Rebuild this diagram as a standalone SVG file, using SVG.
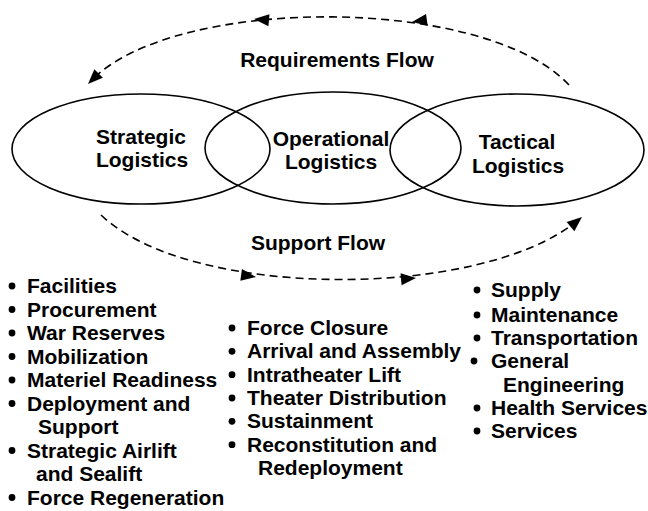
<svg xmlns="http://www.w3.org/2000/svg" xmlns:xlink="http://www.w3.org/1999/xlink" width="648" height="511" viewBox="0 0 648 511">
<style>
  .ell { fill: none; stroke: #000; stroke-width: 1.6; }
  .flow { fill: none; stroke: #000; stroke-width: 1.6; stroke-dasharray: 8 5; }
  .t { font-family: "Liberation Sans", Arial, sans-serif; font-weight: bold; font-size: 21px; fill: #000; }
  .c { text-anchor: middle; }
</style>
<defs>
  <path id="ah" d="M0,0 L-15,-6 L-15,6 Z" fill="#000"/>
  <circle id="bul" r="3.4" fill="#000"/>
</defs>
<rect width="648" height="511" fill="#fff"/>

<g id="connectors">
  <path id="req" class="flow" d="M569,85 C485,-5 175,-5 92,80"/>
  <use xlink:href="#ah" transform="translate(254,19) rotate(185)"/>
  <use xlink:href="#ah" transform="translate(412,22) rotate(172)"/>
  <use xlink:href="#ah" transform="translate(88,84) rotate(135)"/>
  <path id="sup" class="flow" d="M101,215 C190,300 480,300 577,221"/>
  <use xlink:href="#ah" transform="translate(256,277) rotate(8)"/>
  <use xlink:href="#ah" transform="translate(416,278) rotate(-5)"/>
  <use xlink:href="#ah" transform="translate(582,217) rotate(-40)"/>
  <text class="t c" x="337" y="67">Requirements Flow</text>
  <text class="t c" x="318" y="250">Support Flow</text>
</g>

<g id="strategic">
  <ellipse class="ell" cx="141" cy="149" rx="129" ry="55"/>
  <text class="t c" x="141" y="144">Strategic</text>
  <text class="t c" x="142" y="167">Logistics</text>
</g>
<g id="operational">
  <ellipse class="ell" cx="333" cy="148" rx="128" ry="56"/>
  <text class="t c" x="331" y="146">Operational</text>
  <text class="t c" x="331" y="169">Logistics</text>
</g>
<g id="tactical">
  <ellipse class="ell" cx="517" cy="150" rx="127" ry="56"/>
  <text class="t c" x="517" y="149">Tactical</text>
  <text class="t c" x="518" y="173">Logistics</text>
</g>

<g id="strategic-list">
  <use xlink:href="#bul" x="12" y="286"/>
  <text class="t" x="27" y="293">Facilities</text>
  <use xlink:href="#bul" x="12" y="309.5"/>
  <text class="t" x="27" y="316.5">Procurement</text>
  <use xlink:href="#bul" x="12" y="333"/>
  <text class="t" x="27" y="340">War Reserves</text>
  <use xlink:href="#bul" x="12" y="356.5"/>
  <text class="t" x="27" y="363.5">Mobilization</text>
  <use xlink:href="#bul" x="12" y="380"/>
  <text class="t" x="27" y="387">Materiel Readiness</text>
  <use xlink:href="#bul" x="12" y="403.5"/>
  <text class="t" x="27" y="410.5">Deployment and</text>
  <text class="t" x="38" y="434">Support</text>
  <use xlink:href="#bul" x="12" y="450.5"/>
  <text class="t" x="27" y="457.5">Strategic Airlift</text>
  <text class="t" x="36" y="481">and Sealift</text>
  <use xlink:href="#bul" x="12" y="497.5"/>
  <text class="t" x="27" y="504.5">Force Regeneration</text>
</g>

<g id="operational-list">
  <use xlink:href="#bul" x="232" y="328"/>
  <text class="t" x="247" y="335">Force Closure</text>
  <use xlink:href="#bul" x="232" y="351.3"/>
  <text class="t" x="247" y="358.3">Arrival and Assembly</text>
  <use xlink:href="#bul" x="232" y="374.7"/>
  <text class="t" x="247" y="381.7">Intratheater Lift</text>
  <use xlink:href="#bul" x="232" y="398"/>
  <text class="t" x="247" y="405">Theater Distribution</text>
  <use xlink:href="#bul" x="232" y="421.3"/>
  <text class="t" x="247" y="428.3">Sustainment</text>
  <use xlink:href="#bul" x="232" y="444.7"/>
  <text class="t" x="247" y="451.7">Reconstitution and</text>
  <text class="t" x="258" y="475">Redeployment</text>
</g>

<g id="tactical-list">
  <use xlink:href="#bul" x="477" y="290"/>
  <text class="t" x="491" y="297">Supply</text>
  <use xlink:href="#bul" x="477" y="315"/>
  <text class="t" x="491" y="322">Maintenance</text>
  <use xlink:href="#bul" x="477" y="338"/>
  <text class="t" x="491" y="345">Transportation</text>
  <use xlink:href="#bul" x="474" y="361"/>
  <text class="t" x="491" y="368">General</text>
  <text class="t" x="503" y="392">Engineering</text>
  <use xlink:href="#bul" x="477" y="408"/>
  <text class="t" x="491" y="415">Health Services</text>
  <use xlink:href="#bul" x="477" y="431"/>
  <text class="t" x="491" y="438">Services</text>
</g>
</svg>
